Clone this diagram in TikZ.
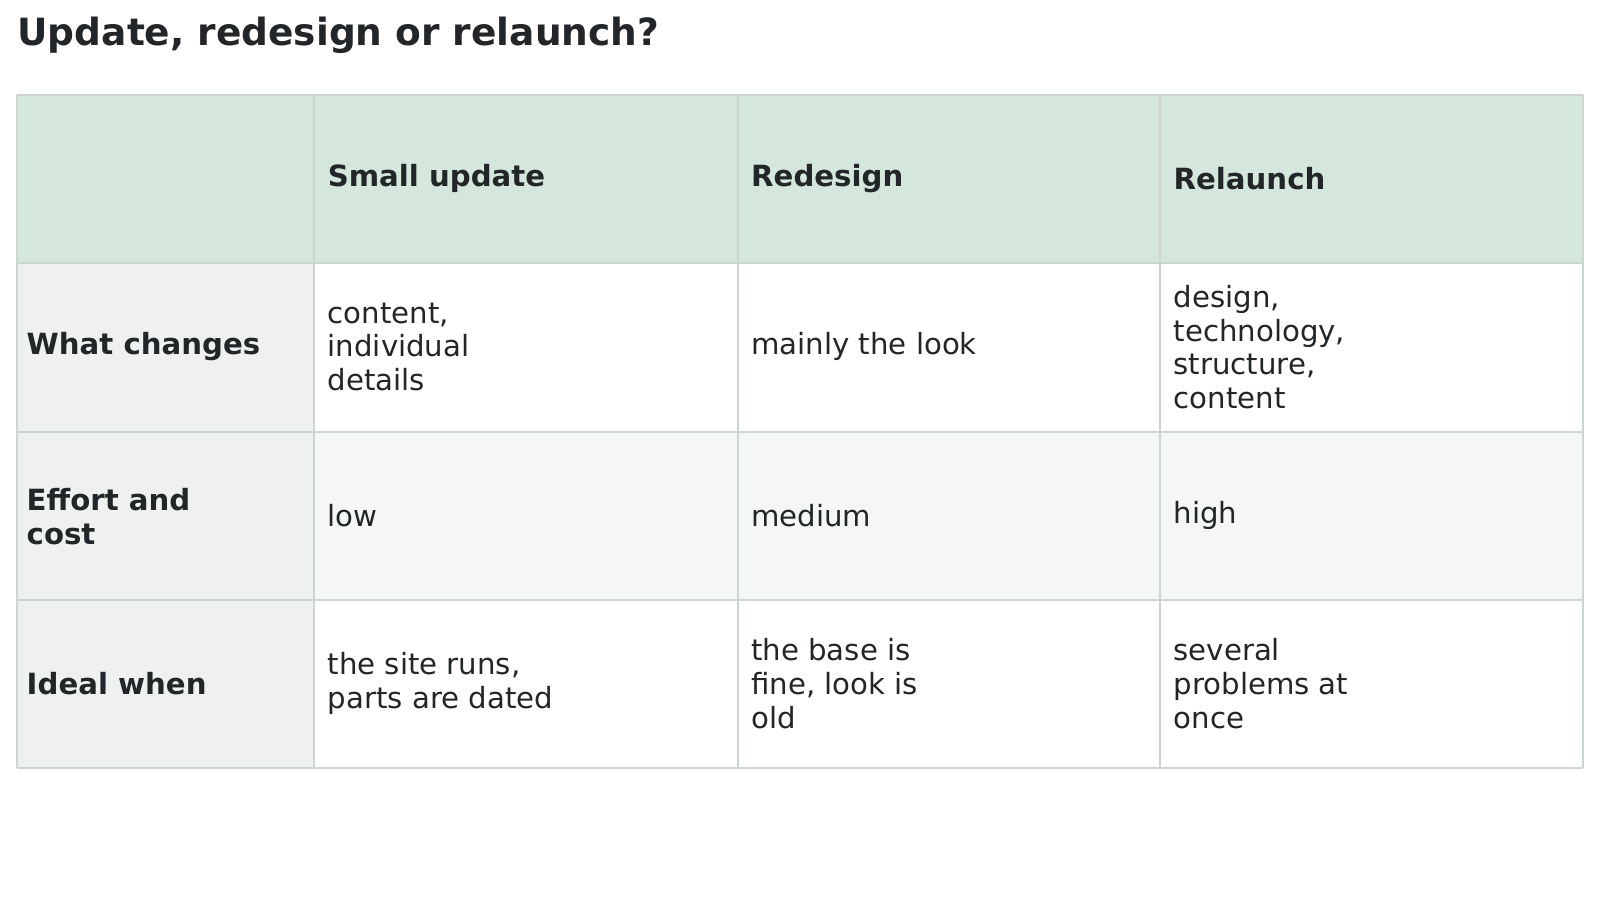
\documentclass[tikz,border=0pt]{standalone}
\usepackage{fontspec}
\setmainfont{DejaVu Sans}
\definecolor{hdr}{HTML}{D5E6DD}
\definecolor{fcol}{HTML}{EFF1F0}
\definecolor{alt}{HTML}{F5F7F6}
\definecolor{brd}{HTML}{CDD5D2}
\definecolor{ink}{HTML}{222628}
\begin{document}
\begin{tikzpicture}[x=1pt,y=-1pt,
  cell/.style={anchor=west,align=left,inner sep=0pt,text=ink,font=\fontsize{29.2}{33.6}\selectfont},
  bcell/.style={cell,font=\fontsize{29.2}{33.6}\selectfont\bfseries}]
\useasboundingbox (0,0) rectangle (1600,917);
\begin{scope}[x=1.0204pt,y=-1.0204pt]
\node[anchor=base west,inner sep=0pt,text=ink,font=\fontsize{37.5}{42}\selectfont\bfseries] (title) at (17,45) {Update, redesign or relaunch?};
\fill[hdr] (17,93) rectangle (1551,258);
\fill[fcol] (17,258) rectangle (308,753);
\fill[alt] (308,423) rectangle (1551,588);
\fill[white] (308,258) rectangle (1551,423);
\fill[white] (308,588) rectangle (1551,753);
\foreach \x in {17,308,723,1137,1551} \draw[brd,line width=2pt] (\x,93) -- (\x,753);
\foreach \y in {93,258,423,588,753} \draw[brd,line width=2pt] (17,\y) -- (1551,\y);
\node[bcell] (h1) at (321,175) {Small update};
\node[bcell] (h2) at (736,175) {Redesign};
\node[bcell] (h3) at (1150,175) {Relaunch};
\node[bcell] (r1) at (26,340) {What changes};
\node[bcell] (r2) at (26,506) {Effort and\\cost};
\node[bcell] (r3) at (26,670) {Ideal when};
\node[cell] (c11) at (321,340) {content,\\individual\\details};
\node[cell] (c12) at (736,340) {mainly the look};
\node[cell] (c13) at (1150,340) {design,\\technology,\\structure,\\content};
\node[cell] (c21) at (321,505) {low};
\node[cell] (c22) at (736,505) {medium};
\node[cell] (c23) at (1150,505) {high};
\node[cell] (c31) at (321,670) {the site runs,\\parts are dated};
\node[cell] (c32) at (736,670) {the base is\\fine, look is\\old};
\node[cell] (c33) at (1150,670) {several\\problems at\\once};
\end{scope}
\end{tikzpicture}
\end{document}
